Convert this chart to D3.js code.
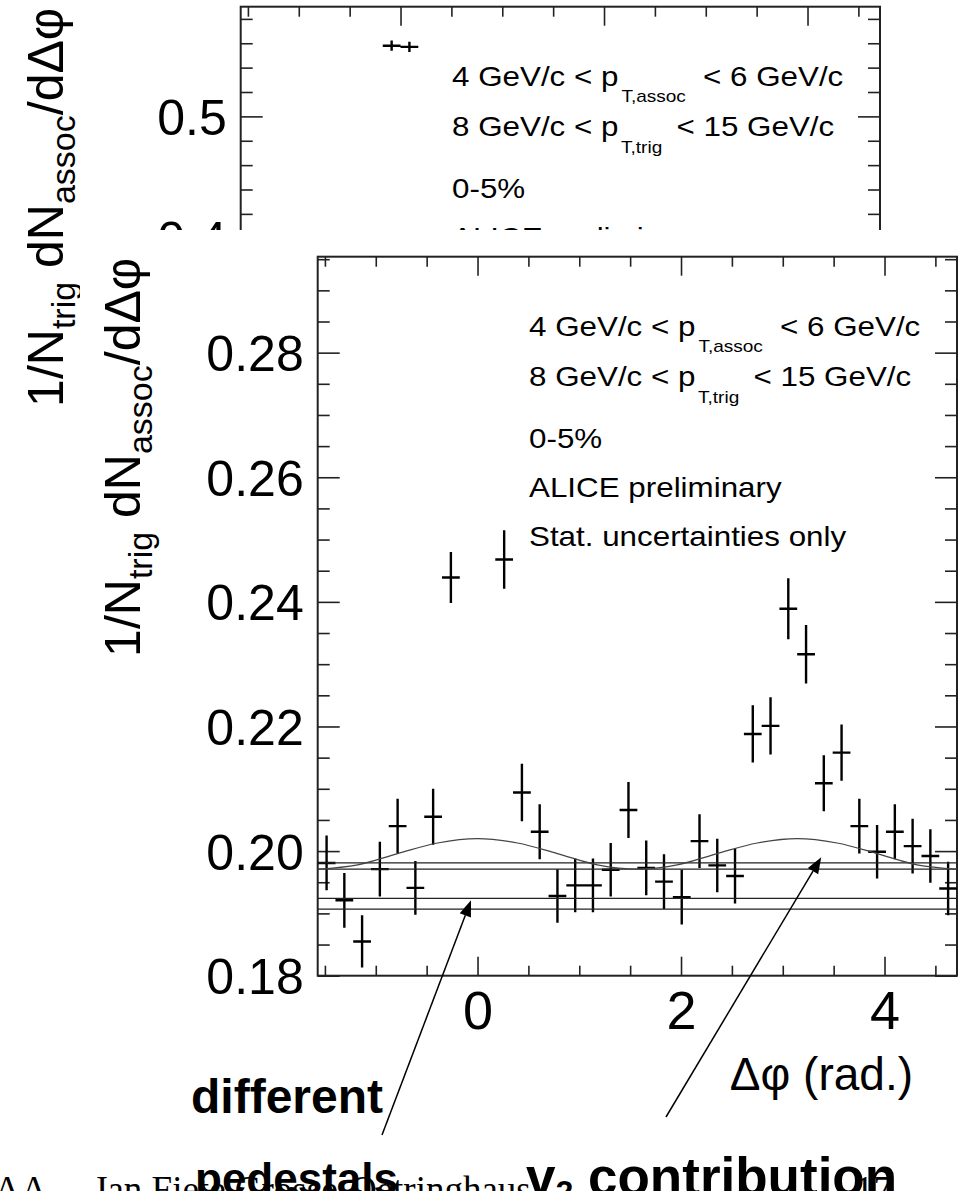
<!DOCTYPE html>
<html>
<head>
<meta charset="utf-8">
<script src="https://cdn.jsdelivr.net/npm/d3@7/dist/d3.min.js"></script>
<style>
  body { margin: 0; background: #fff; }
  text { font-family: "Liberation Sans", Arial, sans-serif; fill: #000; }
</style>
</head>
<body>
<svg width="963" height="1191"></svg>
<script>
// bin centres in delta phi (rad), 36 bins from -pi/2 to 3pi/2
var dphi = [-1.4835, -1.3090, -1.1345, -0.9599, -0.7854, -0.6109, -0.4363, -0.2618, -0.0873,
            0.0873, 0.2618, 0.4363, 0.6109, 0.7854, 0.9599, 1.1345, 1.3090, 1.4835,
            1.6581, 1.8326, 2.0071, 2.1817, 2.3562, 2.5307, 2.7053, 2.8798, 3.0543,
            3.2289, 3.4034, 3.5779, 3.7525, 3.9270, 4.1015, 4.2761, 4.4506, 4.6251];
var binHalf = 0.0873;
var yield_ = [0.1981, 0.1921, 0.1855, 0.1971, 0.2040, 0.1941, 0.2055, 0.2439, 0.5580,
              0.5570, 0.2468, 0.2094, 0.2031, 0.1928, 0.1945, 0.1945, 0.1970, 0.2066,
              0.1973, 0.1951, 0.1926, 0.2016, 0.1977, 0.1960, 0.2188, 0.2201, 0.2389,
              0.2316, 0.2109, 0.2158, 0.2040, 0.1999, 0.2031, 0.2008, 0.1992, 0.1940];
var statErr = [0.0044, 0.0044, 0.0042, 0.0044, 0.0044, 0.0043, 0.0045, 0.0041, 0.0042,
               0.0042, 0.0047, 0.0046, 0.0044, 0.0043, 0.0043, 0.0043, 0.0043, 0.0045,
               0.0044, 0.0044, 0.0044, 0.0043, 0.0043, 0.0044, 0.0046, 0.0046, 0.0049,
               0.0047, 0.0045, 0.0045, 0.0044, 0.0043, 0.0044, 0.0044, 0.0043, 0.0043];

// pedestal levels (horizontal lines) and v2 modulated background
var pedestals = [0.1981, 0.1971, 0.1924, 0.1907];
var v2x = [-1.571, -1.178, -0.785, -0.393, 0, 0.393, 0.785, 1.178, 1.571,
           1.963, 2.356, 2.749, 3.142, 3.534, 3.927, 4.320, 4.712];
var v2y = [0.1971, 0.1978, 0.1996, 0.2013, 0.2020, 0.2013, 0.1996, 0.1978, 0.1971,
           0.1978, 0.1996, 0.2013, 0.2020, 0.2013, 0.1996, 0.1978, 0.1971];

// axes
var xDomain = [-1.5708, 4.7124];
var xMajor = [0, 2, 4];
var xMinor = [-1.5, -1, -0.5, 0.5, 1, 1.5, 2.5, 3, 3.5, 4.5];
var yDomainFront = [0.18, 0.2954];
var yMajorFront = [0.18, 0.20, 0.22, 0.24, 0.26, 0.28];
var yMinorFront = [0.185, 0.19, 0.195, 0.205, 0.21, 0.215, 0.225, 0.23, 0.235,
                   0.245, 0.25, 0.255, 0.265, 0.27, 0.275, 0.285, 0.29, 0.295];
var yDomainBack = [0, 0.59];
var yMajorBack = [0.1, 0.2, 0.3, 0.4, 0.5];
var yMinorBack = [0.02, 0.04, 0.06, 0.08, 0.12, 0.14, 0.16, 0.18, 0.22, 0.24, 0.26, 0.28,
                  0.32, 0.34, 0.36, 0.38, 0.42, 0.44, 0.46, 0.48, 0.52, 0.54, 0.56, 0.58];

var infoLines = ["0-5%", "ALICE preliminary", "Stat. uncertainties only"];

var W = 639.3, H = 719;
var svg = d3.select("svg");

var x = d3.scaleLinear().domain(xDomain).range([0, W]);

function drawPlot(g, y, yMajor, yMinor, yFmt, id) {
    g.append("clipPath").attr("id", id)
        .append("rect").attr("width", W).attr("height", H);

    // ticks, all pointing into the frame
    var ax = [
        [d3.axisBottom(x).tickValues(xMajor).tickSize(-19).tickPadding(15).tickFormat(d3.format("d")), "translate(0," + H + ")", "xl"],
        [d3.axisBottom(x).tickValues(xMinor).tickSize(-10).tickFormat(""), "translate(0," + H + ")"],
        [d3.axisTop(x).tickValues(xMajor).tickSize(-19).tickFormat(""), "translate(0,0)"],
        [d3.axisTop(x).tickValues(xMinor).tickSize(-10).tickFormat(""), "translate(0,0)"],
        [d3.axisLeft(y).tickValues(yMajor).tickSize(-22).tickPadding(14).tickFormat(yFmt), "translate(0,0)", "yl"],
        [d3.axisLeft(y).tickValues(yMinor).tickSize(-12).tickFormat(""), "translate(0,0)"],
        [d3.axisRight(y).tickValues(yMajor).tickSize(-22).tickFormat(""), "translate(" + W + ",0)"],
        [d3.axisRight(y).tickValues(yMinor).tickSize(-12).tickFormat(""), "translate(" + W + ",0)"]
    ];
    ax.forEach(function (a) {
        var ga = g.append("g").attr("transform", a[1]).call(a[0]);
        ga.select(".domain").remove();
        ga.selectAll("line").attr("stroke", "#222").attr("stroke-width", 1.6);
        if (a[2] == "xl") ga.selectAll("text").style("font-size", "54px").attr("fill", "#000");
        if (a[2] == "yl") ga.selectAll("text").style("font-size", "50px").attr("fill", "#000").attr("dy", "0.36em");
    });

    g.append("rect").attr("width", W).attr("height", H)
        .attr("fill", "none").attr("stroke", "#222").attr("stroke-width", 2);

    // y title
    var t = g.append("text")
        .attr("transform", "translate(-177.7,1) rotate(-90)")
        .attr("text-anchor", "end")
        .style("font-size", "50px");
    t.append("tspan").text("1/N");
    t.append("tspan").attr("dy", 12).style("font-size", "34px").text("trig");
    t.append("tspan").attr("dy", -12).text(" dN");
    t.append("tspan").attr("dy", 12).style("font-size", "34px").text("assoc");
    t.append("tspan").attr("dy", -12).text("/d\u0394\u03c6");

    // info text
    function txt(str, tx, ty, fs) {
        g.append("text").attr("transform", "translate(" + tx + "," + ty + ") scale(1.12,1)")
            .style("font-size", fs + "px").text(str);
    }
    txt("4 GeV/c < p", 211.3, 79, 28);
    txt("T,assoc", 380.7, 95, 17);
    txt("< 6 GeV/c", 462.3, 79, 28);
    txt("8 GeV/c < p", 211.3, 129, 28);
    txt("T,trig", 380.3, 146.3, 17);
    txt("< 15 GeV/c", 435.8, 129, 28);
    var lineY = [191.6, 240.6, 289.3];
    infoLines.forEach(function (s, i) { txt(s, 211.3, lineY[i], 28); });

    // data points with error bars
    var pts = g.append("g").attr("clip-path", "url(#" + id + ")");
    var path = "";
    dphi.forEach(function (d, i) {
        path += "M" + x(d - binHalf) + "," + y(yield_[i]) + "H" + x(d + binHalf);
        path += "M" + x(d) + "," + y(yield_[i] - statErr[i]) + "V" + y(yield_[i] + statErr[i]);
    });
    pts.append("path").attr("d", path).attr("fill", "none")
        .attr("stroke", "#000").attr("stroke-width", 2.4);
    return pts;
}

// background (larger range) plot, mostly hidden behind the front one
var gBack = svg.append("g").attr("transform", "translate(240.7,6.7)");
var yBack = d3.scaleLinear().domain(yDomainBack).range([H, 0]);
drawPlot(gBack, yBack, yMajorBack, yMinorBack, d3.format(".1f"), "clipBack");

svg.append("rect").attr("x", 80).attr("y", 230).attr("width", 883).attr("height", 961).attr("fill", "#fff");

var gFront = svg.append("g").attr("transform", "translate(317.7,256.7)");
var yFront = d3.scaleLinear().domain(yDomainFront).range([H, 0]);
var ptsFront = drawPlot(gFront, yFront, yMajorFront, yMinorFront, d3.format(".2f"), "clipFront");

ptsFront.selectAll("line.ped").data(pedestals).enter().append("line")
    .attr("x1", 0).attr("x2", W)
    .attr("y1", function (d) { return yFront(d); })
    .attr("y2", function (d) { return yFront(d); })
    .attr("stroke", "#222").attr("stroke-width", 1.3);

var v2pts = v2x.map(function (d, i) { return [d, v2y[i]]; });
ptsFront.append("path").datum(v2pts)
    .attr("d", d3.line().x(function (d) { return x(d[0]); }).y(function (d) { return yFront(d[1]); })
        .curve(d3.curveCatmullRom))
    .attr("fill", "none").attr("stroke", "#444").attr("stroke-width", 1.2);

// x title
gFront.append("text").attr("x", 913 - 317.7).attr("y", 1090 - 256.7)
    .attr("text-anchor", "end").style("font-size", "46px").text("\u0394\u03c6 (rad.)");

// arrows: tail in page px, head at a data position
var arrows = [
    {tail: [382, 1135], head: [-0.064, 0.1921]},
    {tail: [666, 1117], head: [3.378, 0.1990]}
];
arrows.forEach(function (a) {
    var hx = 317.7 + x(a.head[0]), hy = 256.7 + yFront(a.head[1]);
    var dx = hx - a.tail[0], dy = hy - a.tail[1], len = Math.sqrt(dx * dx + dy * dy);
    var ux = dx / len, uy = dy / len, hl = 16, hw = 6;
    var bx = hx - ux * hl, by = hy - uy * hl;
    svg.append("line").attr("x1", a.tail[0]).attr("y1", a.tail[1]).attr("x2", bx).attr("y2", by)
        .attr("stroke", "#000").attr("stroke-width", 1.5);
    svg.append("path")
        .attr("d", "M" + hx + "," + hy + "L" + (bx - uy * hw) + "," + (by + ux * hw) +
            "L" + (bx + uy * hw) + "," + (by - ux * hw) + "Z")
        .attr("fill", "#000");
});

// slide footer
var serif = "'Liberation Serif', 'Times New Roman', serif";
svg.append("text").attr("x", -6).attr("y", 1202)
    .style("font-family", serif).style("font-size", "37px").text("AA");
svg.append("text").attr("x", 93).attr("y", 1202)
    .style("font-family", serif).style("font-size", "37px").text("Jan Fiete Grosse-Oetringhaus");
svg.append("text").attr("x", 855).attr("y", 1202)
    .style("font-family", serif).style("font-size", "37px").text("17");

// slide annotations
svg.append("text").attr("x", 191).attr("y", 1113)
    .style("font-size", "48px").style("font-weight", "bold").text("different");
svg.append("text").attr("x", 195).attr("y", 1194)
    .style("font-size", "44px").style("font-weight", "bold").text("pedestals");
var v2t = svg.append("text").attr("x", 526).attr("y", 1195)
    .style("font-size", "53px").style("font-weight", "bold");
v2t.append("tspan").text("v");
v2t.append("tspan").attr("dy", 8).style("font-size", "32px").text("2");
v2t.append("tspan").attr("dy", -8).text(" contribution");
</script>
</body>
</html>
